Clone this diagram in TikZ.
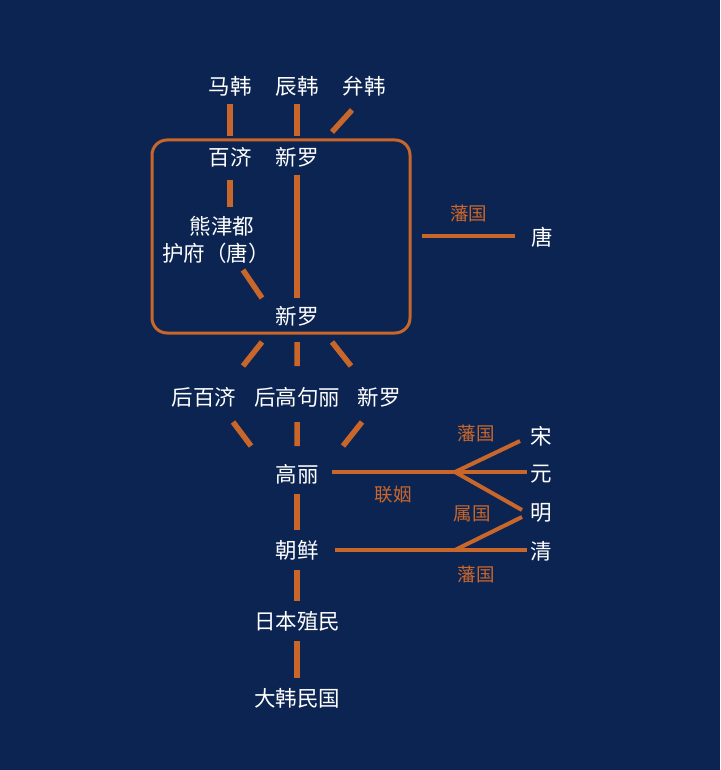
\documentclass[tikz,border=0pt]{standalone}
\usepackage{fontspec}
\setmainfont{Noto Sans CJK SC}
\usetikzlibrary{positioning}
\definecolor{navy}{HTML}{0C2452}
\definecolor{rust}{HTML}{C9662A}
\begin{document}
\begin{tikzpicture}[x=1pt, y=-1pt,
  every node/.style = {text=white, font=\fontsize{21.5}{27}\selectfont, inner sep=2pt, align=center},
  tag/.style = {text=rust, font=\fontsize{18.5}{22}\selectfont},
  bar/.style = {draw=rust, line width=5.5pt},
  thin/.style = {draw=rust, line width=4pt}]
  \fill[navy] (0,0) rectangle (720,770);
  % names
  \node (mahan)  at (230,86)  {马韩};
  \node (chenhan) at (297,86) {辰韩};
  \node (bianhan) at (364,86) {弁韩};
  \node (baiji)  at (230,157) {百济};
  \node (silla)  at (297,157) {新罗};
  \node (xiongjin) at (216,240) {\hspace*{12pt}熊津都\\护府（唐）};
  \node (sillab) at (297,316) {新罗};
  \node (tang)   at (542,237) {唐};
  \node (hbj)    at (204,397) {后百济};
  \node (hgj)    at (297,397) {后高句丽};
  \node (sillac) at (379,397) {新罗};
  \node (goryeo) at (297,474) {高丽};
  \node (joseon) at (297,550) {朝鲜};
  \node (colony) at (297,621) {日本殖民};
  \node (korea)  at (297,698) {大韩民国};
  \node (song)   at (541,436) {宋};
  \node (yuan)   at (541,474) {元};
  \node (ming)   at (541,513) {明};
  \node (qing)   at (541,551) {清};
  % frame
  \node[draw=rust, line width=3pt, rounded corners=15pt, minimum width=258pt, minimum height=193pt] (realm) at (281,236.5) {};
  % free ends
  \coordinate (b1) at (352,110); \coordinate (b2) at (332,132);
  \coordinate (p1) at (230,180); \coordinate (p2) at (230,207);
  \coordinate (x1) at (243,270); \coordinate (x2) at (262,298);
  \coordinate (r1) at (422,236); \coordinate (r2) at (515,236);
  \coordinate (d1) at (262,342); \coordinate (d2) at (243,366);
  \coordinate (d3) at (297,342); \coordinate (d4) at (297,366);
  \coordinate (d5) at (332,342); \coordinate (d6) at (351,366);
  \coordinate (e1) at (233,422); \coordinate (e2) at (251,446);
  \coordinate (e3) at (297,422); \coordinate (e4) at (297,446);
  \coordinate (e5) at (362,422); \coordinate (e6) at (343,446);
  \coordinate (g0) at (332,472); \coordinate (fk1) at (455,472);
  \coordinate (j0) at (335,550); \coordinate (fk2) at (455,550);
  \coordinate (t1) at (520,441); \coordinate (t2) at (527,472);
  \coordinate (t3) at (522,510); \coordinate (t4) at (522,517);
  \coordinate (t5) at (527,550);
  % links
  \draw[bar, shorten >=9pt, shorten <=6pt] (mahan) -- (baiji);
  \draw[bar, shorten >=9pt, shorten <=6pt] (chenhan) -- (silla);
  \draw[bar] (b1) -- (b2);
  \draw[bar] (p1) -- (p2);
  \draw[bar, shorten >=6pt, shorten <=6pt] (silla) -- (sillab);
  \draw[bar] (x1) -- (x2);
  \draw[thin] (r1) -- node[tag, above=10pt] {藩国} (r2);
  \draw[bar] (d1) -- (d2) (d3) -- (d4) (d5) -- (d6);
  \draw[bar] (e1) -- (e2) (e3) -- (e4) (e5) -- (e6);
  \foreach \a/\b in {goryeo/joseon, joseon/colony, colony/korea}
    \draw[bar, shorten >=8pt, shorten <=8pt] (\a) -- (\b);
  % tributaries
  \draw[thin] (g0) -- (fk1) -- (t2);
  \draw[thin] (fk1) -- (t1);
  \draw[thin] (fk1) -- (t3);
  \draw[thin] (j0) -- (fk2) -- (t5);
  \draw[thin] (fk2) -- (t4);
  \node[tag] at (476,433) {藩国};
  \node[tag] at (393,495) {联姻};
  \node[tag] at (472,514) {属国};
  \node[tag] at (476,574) {藩国};
\end{tikzpicture}
\end{document}
